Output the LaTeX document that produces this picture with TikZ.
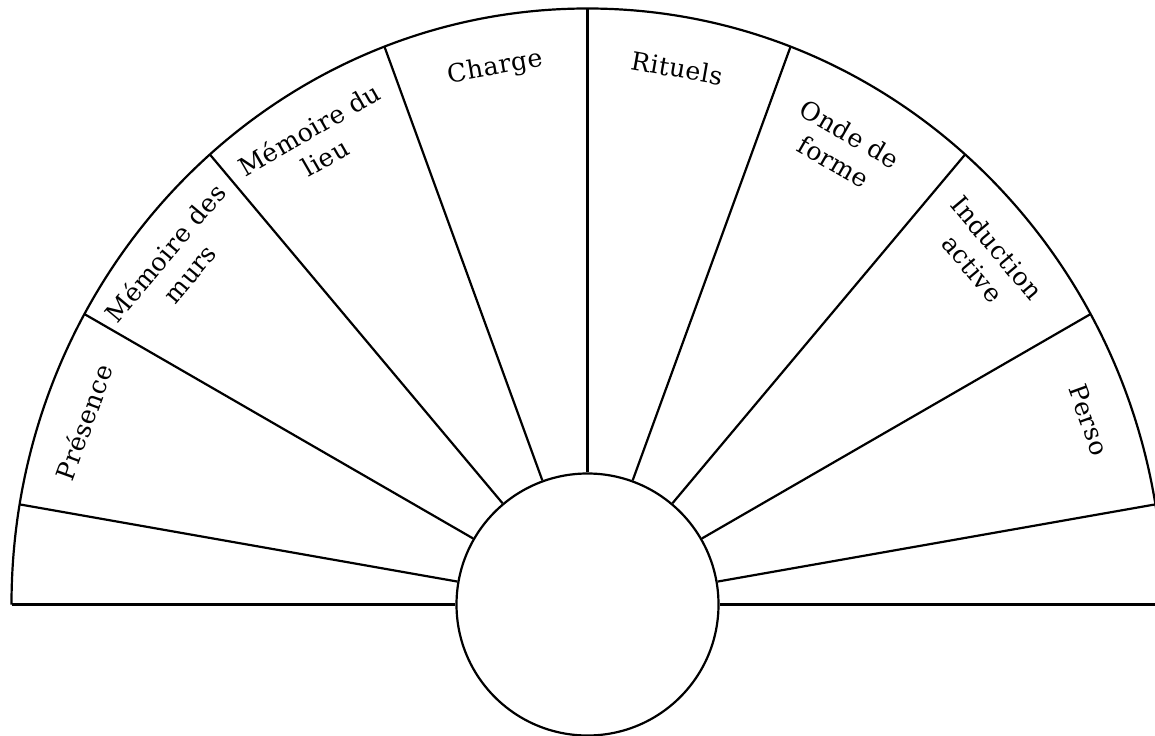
\documentclass[tikz,border=0pt]{standalone}
\usepackage{fontspec}
\setmainfont{DejaVu Serif}[LetterSpace=2]
\begin{document}
\begin{tikzpicture}[x=0.5pt,y=0.5pt,
  ray/.style={line width=1.1pt},
  base/.style={line width=1.4pt},
  lbl/.style={font=\fontsize{12.6}{16}\selectfont, align=center, inner sep=0pt}]
\useasboundingbox (0,0) rectangle (1155,735);
\clip (0,0) rectangle (1155,735);
\coordinate (C) at (587.5,130.5);
\path (C) ++(-576,0) coordinate (L);
\path (C) ++(576,0) coordinate (Rend);
\coordinate (R) at (1155,130.5);
% outer arc
\draw[ray] (Rend) arc[start angle=0, end angle=180, x radius=576, y radius=596];
% hub
\node (hub) [circle, draw, line width=1.1pt, minimum size=131pt, inner sep=0pt, fill=white] at (C) {};
% baseline
\draw[base] (L) -- (hub.west);
\draw[base] (hub.east) -- (R);
% rays
\begin{scope}
  \clip (C) ellipse [x radius=576, y radius=596];
  \foreach \a in {10,30,...,170} \draw[ray] (hub.\a) -- ++(\a:800);
\end{scope}
% labels
\node[lbl, rotate=10]  (charge)   at (495,667) {Charge};
\node[lbl, rotate=-10] (rituels)  at (677,667) {Rituels};
\node[lbl, rotate=-30] (onde)     at (842,587) {Onde de\\forme};
\node[lbl, rotate=-50] (induct)   at (985,477) {Induction\\active};
\node[lbl, rotate=-70] (perso)    at (1089,315) {Perso};
\node[lbl, rotate=50]  (murs)     at (177,472) {Mémoire des\\murs};
\node[lbl, rotate=30]  (lieu)     at (317,592) {Mémoire du\\lieu};
\node[lbl, rotate=70]  (presence) at (84,313) {Présence};
\end{tikzpicture}
\end{document}
